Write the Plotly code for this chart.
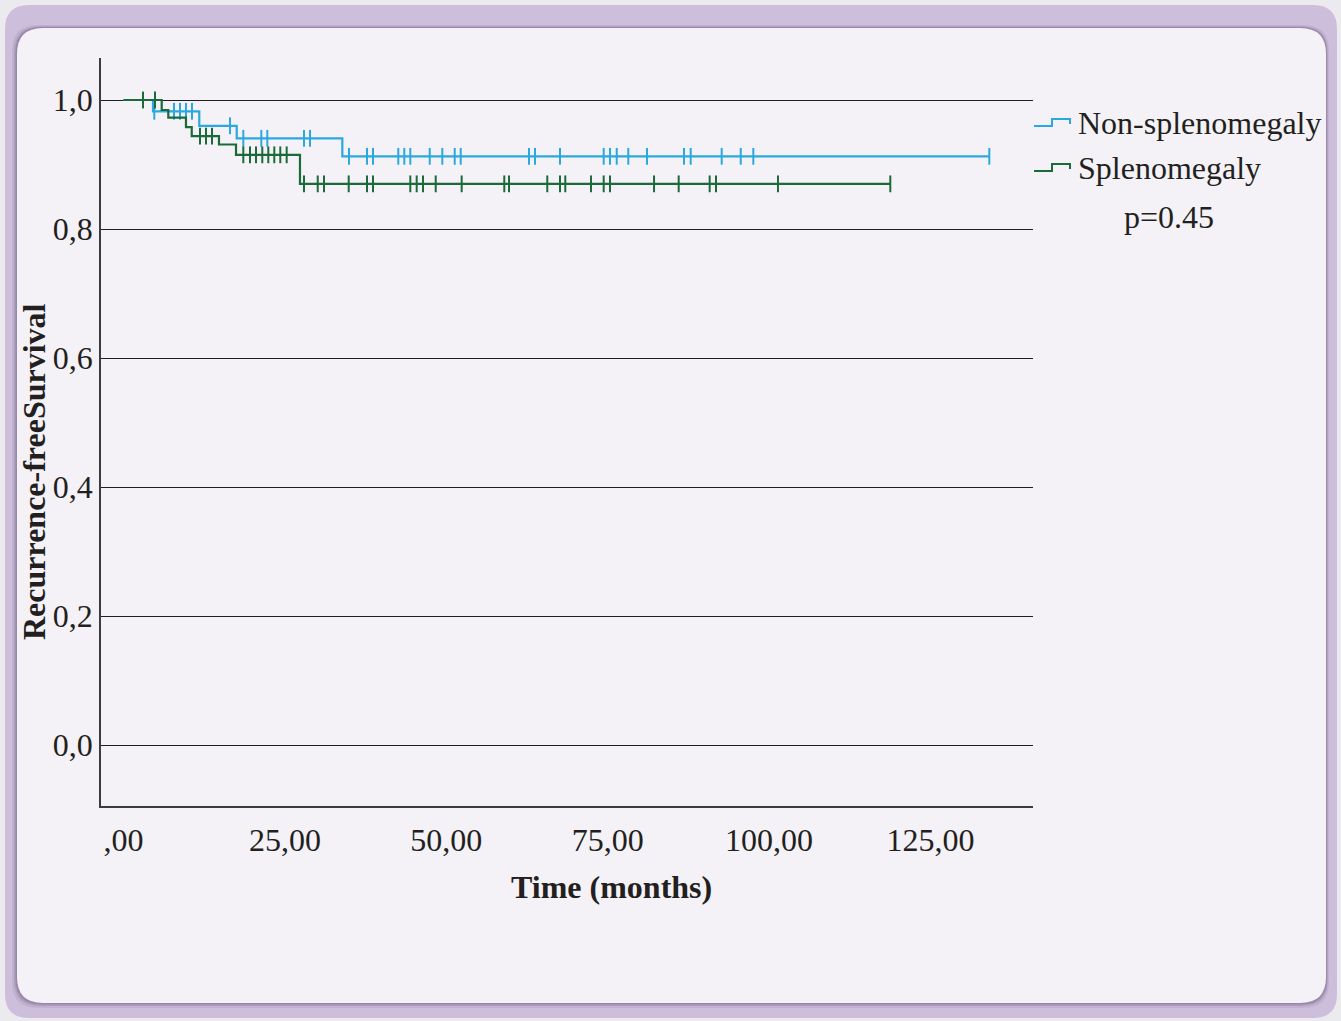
import plotly.graph_objects as go

# ---- Kaplan-Meier step data (time in months) ----
non_event_times = [4.57, 11.74, 17.54, 33.90]
non_event_surv = [0.9825, 0.960, 0.9406, 0.9127]
non_censor_times = [4.77, 7.82, 8.75, 9.68, 10.61, 16.50, 18.56, 21.35, 22.28, 27.96,
                    28.89, 34.93, 37.72, 38.65, 42.57, 43.50, 44.43, 47.44, 49.39, 51.31,
                    52.24, 62.82, 63.75, 67.62, 74.39, 75.37, 76.41, 78.20, 81.10, 86.83,
                    87.87, 92.67, 95.62, 97.57, 134.13]

spl_event_times = [5.92, 6.94, 9.68, 10.57, 14.79, 17.43, 27.34]
spl_event_surv = [0.9845, 0.9726, 0.958, 0.944, 0.931, 0.915, 0.870]
spl_censor_times = [3.02, 4.88, 11.85, 12.78, 13.71, 18.56, 19.60, 20.53, 21.50, 22.43,
                    23.36, 24.29, 25.28, 27.96, 30.09, 31.06, 34.89, 37.72, 38.65, 44.43,
                    45.42, 46.40, 48.37, 52.39, 58.99, 59.72, 65.65, 67.62, 68.44, 72.42,
                    74.39, 75.37, 82.19, 86.01, 90.81, 91.79, 101.39, 118.79]

x_tick_vals = [0, 25, 50, 75, 100, 125]
x_tick_text = [",00", "25,00", "50,00", "75,00", "100,00", "125,00"]
y_tick_vals = [0.0, 0.2, 0.4, 0.6, 0.8, 1.0]
y_tick_text = ["0,0", "0,2", "0,4", "0,6", "0,8", "1,0"]

group_names = ["Non-splenomegaly", "Splenomegaly"]
p_value_text = "p=0.45"

BLUE = "#2aa8e0"
GREEN = "#1b6a3a"
TEXT = "#231f20"
FONT = "Liberation Serif, Times New Roman, serif"
FS = 32

W, H = 1341, 1021
L, R, T, B = 101, 1033, 58, 806


def step_curve(ev_t, ev_s, censor_t):
    xs = [0.0] + list(ev_t) + [max(censor_t)]
    ys = [1.0] + list(ev_s) + [ev_s[-1]]
    return xs, ys


def surv_at(t, ev_t, ev_s):
    s = 1.0
    for et, es in zip(ev_t, ev_s):
        if t >= et:
            s = es
    return s


fig = go.Figure()

for name, ev_t, ev_s, cens, col in [
    (group_names[0], non_event_times, non_event_surv, non_censor_times, BLUE),
    (group_names[1], spl_event_times, spl_event_surv, spl_censor_times, GREEN),
]:
    xs, ys = step_curve(ev_t, ev_s, cens)
    fig.add_trace(go.Scatter(x=xs, y=ys, mode="lines", line=dict(color=col, width=2.2, shape="hv"),
                             name=name, showlegend=False, hoverinfo="skip"))
    fig.add_trace(go.Scatter(x=cens, y=[surv_at(t, ev_t, ev_s) for t in cens], mode="markers",
                             marker=dict(symbol="line-ns", size=12, line=dict(color=col, width=2)),
                             name=name + " censored", showlegend=False, hoverinfo="skip"))


# ---- helpers for decorations placed in pixel terms ----
def px(x):
    return (x - L) / (R - L)


def py(y):
    return (B - y) / (B - T)


def rounded_rect(x0, y0, x1, y1, r):
    pts = [
        f"M {px(x0 + r)},{py(y0)}",
        f"L {px(x1 - r)},{py(y0)}",
        f"Q {px(x1)},{py(y0)} {px(x1)},{py(y0 + r)}",
        f"L {px(x1)},{py(y1 - r)}",
        f"Q {px(x1)},{py(y1)} {px(x1 - r)},{py(y1)}",
        f"L {px(x0 + r)},{py(y1)}",
        f"Q {px(x0)},{py(y1)} {px(x0)},{py(y1 - r)}",
        f"L {px(x0)},{py(y0 + r)}",
        f"Q {px(x0)},{py(y0)} {px(x0 + r)},{py(y0)}",
        "Z",
    ]
    return " ".join(pts)


shapes = []
# outer lavender frame
shapes.append(dict(type="path", xref="paper", yref="paper", layer="below",
                   path=rounded_rect(5, 5, 1337, 1018, 24), fillcolor="#cdbfdc", line=dict(width=0)))
# soft shadow around inner panel
for grow, alpha in [(5, 0.10), (3, 0.16), (1.5, 0.22)]:
    shapes.append(dict(type="path", xref="paper", yref="paper", layer="below",
                       path=rounded_rect(17 - grow, 28 - grow * 0.6, 1326 + grow * 0.6, 1003 + grow, 26),
                       fillcolor=f"rgba(80,60,100,{alpha})", line=dict(width=0)))
# inner panel
shapes.append(dict(type="path", xref="paper", yref="paper", layer="below",
                   path=rounded_rect(17, 28, 1326, 1003, 26), fillcolor="#f4f2f7", line=dict(width=0)))


# legend step icons
def legend_icon(yc, col):
    path = (f"M {px(1034)},{py(yc + 3)} L {px(1052)},{py(yc + 3)} L {px(1052)},{py(yc - 4)} "
            f"L {px(1070)},{py(yc - 4)} L {px(1070)},{py(yc + 1)}")
    return dict(type="path", xref="paper", yref="paper", path=path, line=dict(color=col, width=2))


shapes.append(legend_icon(123, BLUE))
shapes.append(legend_icon(168, GREEN))

annotations = [
    dict(text=group_names[0], x=px(1076), y=py(123), xref="paper", yref="paper", xanchor="left",
         yanchor="middle", showarrow=False, font=dict(family=FONT, size=FS, color=TEXT)),
    dict(text=group_names[1], x=px(1076), y=py(168), xref="paper", yref="paper", xanchor="left",
         yanchor="middle", showarrow=False, font=dict(family=FONT, size=FS, color=TEXT)),
    dict(text=p_value_text, x=px(1169), y=py(217), xref="paper", yref="paper", xanchor="center",
         yanchor="middle", showarrow=False, font=dict(family=FONT, size=FS, color=TEXT)),
    dict(text="<b>Time (months)</b>", x=px(611), y=py(887), xref="paper", yref="paper",
         xanchor="center", yanchor="middle", showarrow=False, font=dict(family=FONT, size=FS, color=TEXT)),
    dict(text="<b>Recurrence-freeSurvival</b>", x=px(34), y=py(472), xref="paper", yref="paper",
         xanchor="center", yanchor="middle", textangle=-90, showarrow=False,
         font=dict(family=FONT, size=FS, color=TEXT)),
]

x_px_per_unit = 6.455
x0_px = 123.5
x_range = [(L - x0_px) / x_px_per_unit, (R - x0_px) / x_px_per_unit]
y_range = [1 - (B - 100) / 645, 1 + (100 - T) / 645]

fig.update_layout(
    width=W, height=H,
    margin=dict(l=L, r=W - R, t=T, b=H - B, pad=0),
    paper_bgcolor="#ebeaef",
    plot_bgcolor="rgba(0,0,0,0)",
    shapes=shapes,
    annotations=annotations,
    showlegend=False,
    font=dict(family=FONT, size=FS, color=TEXT),
    xaxis=dict(range=x_range, tickvals=x_tick_vals, ticktext=x_tick_text, showgrid=False,
               zeroline=False, showline=True, linecolor="#3c3c3c", linewidth=1.5, ticks="",
               ticklabelstandoff=5, tickfont=dict(family=FONT, size=FS, color=TEXT)),
    yaxis=dict(range=y_range, tickvals=y_tick_vals, ticktext=y_tick_text, showgrid=True,
               gridcolor="#1e1e1e", gridwidth=1, zeroline=False, showline=True,
               linecolor="#3c3c3c", linewidth=1.5, ticks="", ticklabelstandoff=0,
               tickfont=dict(family=FONT, size=FS, color=TEXT)),
)

fig.write_html("out.html")
